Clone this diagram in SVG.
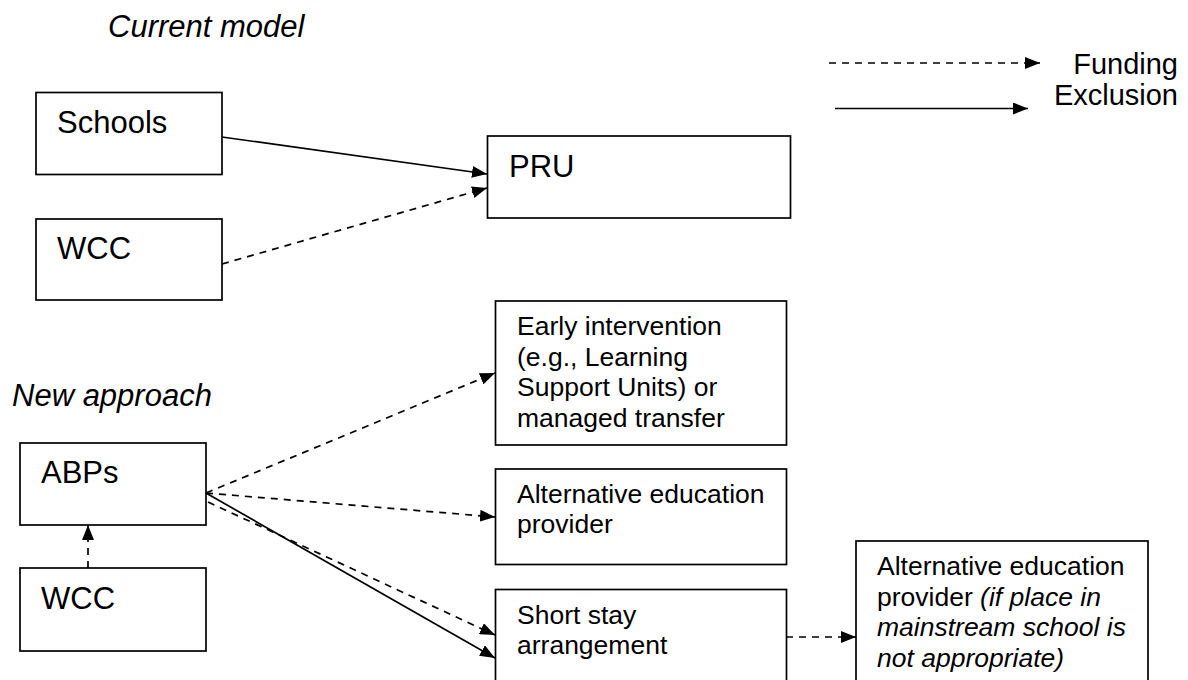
<svg xmlns="http://www.w3.org/2000/svg" width="1188" height="680" viewBox="0 0 1188 680">
<style>
.box{fill:#fff;stroke:#000;stroke-width:1.7}
.t{font-family:"Liberation Sans",Arial,sans-serif;fill:#000}
.big{font-size:31px}
.sm{font-size:26.5px}
.leg{font-size:29px}
.it{font-style:italic}
.solid{stroke:#000;stroke-width:1.7;fill:none;marker-end:url(#ah)}
.dash{stroke:#000;stroke-width:1.7;fill:none;stroke-dasharray:7 6;marker-end:url(#ah)}
</style>
<defs>
<marker id="ah" markerUnits="userSpaceOnUse" markerWidth="15" markerHeight="12" refX="15" refY="6" orient="auto">
<path d="M0,0 L15,6 L0,12 z" fill="#000"/>
</marker>
</defs>
<rect width="1188" height="680" fill="#fff"/>
<text class="t big it" x="108" y="37">Current model</text>
<text class="t big it" x="12" y="406">New approach</text>
<g id="legend">
<line class="dash" x1="829" y1="63" x2="1040" y2="63"/>
<line class="solid" x1="835" y1="108.5" x2="1028" y2="108.5"/>
<text class="t leg" x="1178" y="73.5" text-anchor="end">Funding</text>
<text class="t leg" x="1178" y="104.5" text-anchor="end">Exclusion</text>
</g>
<g id="schools"><rect class="box" x="36" y="92.5" width="186" height="82"/><text class="t big" x="57" y="133">Schools</text></g>
<g id="wcc1"><rect class="box" x="36" y="219" width="186" height="81"/><text class="t big" x="57" y="259">WCC</text></g>
<g id="pru"><rect class="box" x="487.5" y="136" width="303" height="82"/><text class="t big" x="509" y="177">PRU</text></g>
<g id="abps"><rect class="box" x="20" y="443" width="186" height="82"/><text class="t big" x="41" y="483">ABPs</text></g>
<g id="wcc2"><rect class="box" x="20" y="568" width="186" height="83"/><text class="t big" x="41" y="609">WCC</text></g>
<g id="early"><rect class="box" x="495.5" y="301" width="291" height="144"/>
<text class="t sm" x="517" y="335">Early intervention</text>
<text class="t sm" x="517" y="365.5">(e.g., Learning</text>
<text class="t sm" x="517" y="396">Support Units) or</text>
<text class="t sm" x="517" y="426.5">managed transfer</text></g>
<g id="alt"><rect class="box" x="495.5" y="469" width="291" height="95.5"/>
<text class="t sm" x="517" y="502.5">Alternative education</text>
<text class="t sm" x="517" y="533">provider</text></g>
<g id="short"><rect class="box" x="495.5" y="589.5" width="291" height="110"/>
<text class="t sm" x="517" y="623.5">Short stay</text>
<text class="t sm" x="517" y="654">arrangement</text></g>
<g id="alt2"><rect class="box" x="856" y="541" width="292" height="160"/>
<text class="t sm" x="877" y="575">Alternative education</text>
<text class="t sm" x="877" y="605.5">provider <tspan class="it">(if place in</tspan></text>
<text class="t sm it" x="877" y="636">mainstream school is</text>
<text class="t sm it" x="877" y="666.5">not appropriate)</text></g>
<g id="connectors">
<line class="solid" x1="222" y1="137" x2="487" y2="174"/>
<line class="dash" x1="222" y1="264" x2="487" y2="188"/>
<line class="dash" x1="88" y1="568" x2="88" y2="525"/>
<line class="dash" x1="206" y1="493" x2="495" y2="373"/>
<line class="dash" x1="206" y1="493" x2="495" y2="517"/>
<line class="dash" x1="208" y1="502" x2="495" y2="635"/>
<line class="solid" x1="206" y1="493" x2="495" y2="658"/>
<line class="dash" x1="786" y1="637" x2="856" y2="637"/>
</g>
</svg>
